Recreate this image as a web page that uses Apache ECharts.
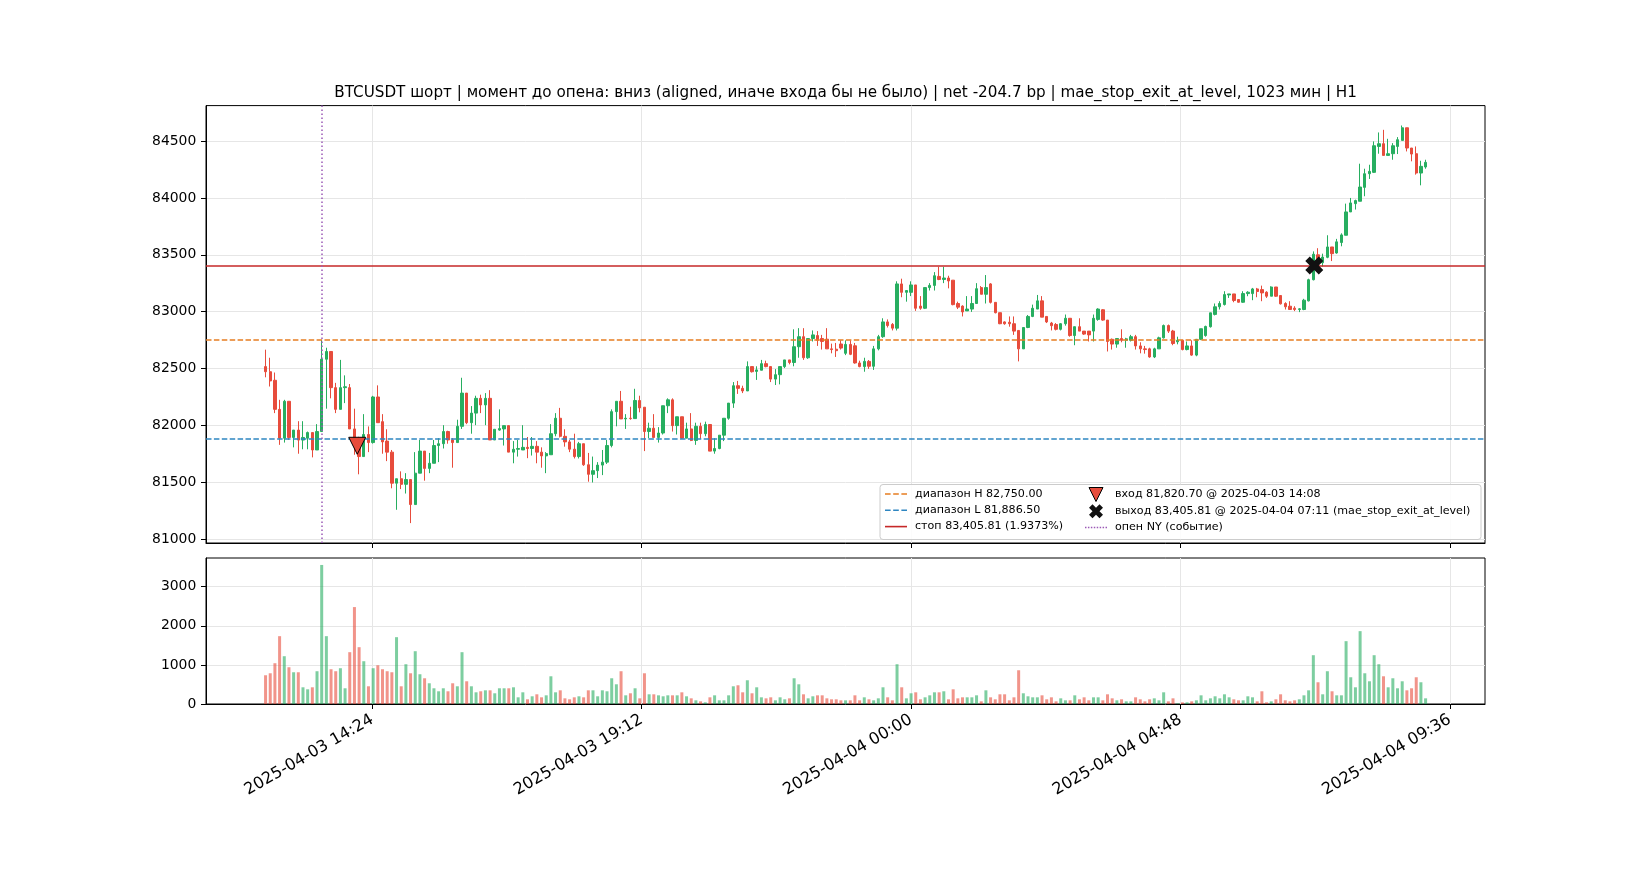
<!DOCTYPE html>
<html>
<head>
<meta charset="utf-8">
<script src="https://cdn.jsdelivr.net/npm/echarts@6.0.0/dist/echarts.min.js"></script>
<style>
html,body{margin:0;padding:0;background:#ffffff;}
#chart{width:1650px;height:880px;}
</style>
</head>
<body>
<div id="chart"></div>
<script>
// ---------- DATA ----------
const candleTimes = [
'2025-04-03 12:30','2025-04-03 12:35','2025-04-03 12:40','2025-04-03 12:45','2025-04-03 12:50','2025-04-03 12:55',
'2025-04-03 13:00','2025-04-03 13:05','2025-04-03 13:10','2025-04-03 13:15','2025-04-03 13:20','2025-04-03 13:25','2025-04-03 13:30','2025-04-03 13:35','2025-04-03 13:40','2025-04-03 13:45','2025-04-03 13:50','2025-04-03 13:55',
'2025-04-03 14:00','2025-04-03 14:05','2025-04-03 14:10','2025-04-03 14:15','2025-04-03 14:20','2025-04-03 14:25','2025-04-03 14:30','2025-04-03 14:35','2025-04-03 14:40','2025-04-03 14:45','2025-04-03 14:50','2025-04-03 14:55',
'2025-04-03 15:00','2025-04-03 15:05','2025-04-03 15:10','2025-04-03 15:15','2025-04-03 15:20','2025-04-03 15:25','2025-04-03 15:30','2025-04-03 15:35','2025-04-03 15:40','2025-04-03 15:45','2025-04-03 15:50','2025-04-03 15:55',
'2025-04-03 16:00','2025-04-03 16:05','2025-04-03 16:10','2025-04-03 16:15','2025-04-03 16:20','2025-04-03 16:25','2025-04-03 16:30','2025-04-03 16:35','2025-04-03 16:40','2025-04-03 16:45','2025-04-03 16:50','2025-04-03 16:55',
'2025-04-03 17:00','2025-04-03 17:05','2025-04-03 17:10','2025-04-03 17:15','2025-04-03 17:20','2025-04-03 17:25','2025-04-03 17:30','2025-04-03 17:35','2025-04-03 17:40','2025-04-03 17:45','2025-04-03 17:50','2025-04-03 17:55',
'2025-04-03 18:00','2025-04-03 18:05','2025-04-03 18:10','2025-04-03 18:15','2025-04-03 18:20','2025-04-03 18:25','2025-04-03 18:30','2025-04-03 18:35','2025-04-03 18:40','2025-04-03 18:45','2025-04-03 18:50','2025-04-03 18:55',
'2025-04-03 19:00','2025-04-03 19:05','2025-04-03 19:10','2025-04-03 19:15','2025-04-03 19:20','2025-04-03 19:25','2025-04-03 19:30','2025-04-03 19:35','2025-04-03 19:40','2025-04-03 19:45','2025-04-03 19:50','2025-04-03 19:55',
'2025-04-03 20:00','2025-04-03 20:05','2025-04-03 20:10','2025-04-03 20:15','2025-04-03 20:20','2025-04-03 20:25','2025-04-03 20:30','2025-04-03 20:35','2025-04-03 20:40','2025-04-03 20:45','2025-04-03 20:50','2025-04-03 20:55',
'2025-04-03 21:00','2025-04-03 21:05','2025-04-03 21:10','2025-04-03 21:15','2025-04-03 21:20','2025-04-03 21:25','2025-04-03 21:30','2025-04-03 21:35','2025-04-03 21:40','2025-04-03 21:45','2025-04-03 21:50','2025-04-03 21:55',
'2025-04-03 22:00','2025-04-03 22:05','2025-04-03 22:10','2025-04-03 22:15','2025-04-03 22:20','2025-04-03 22:25','2025-04-03 22:30','2025-04-03 22:35','2025-04-03 22:40','2025-04-03 22:45','2025-04-03 22:50','2025-04-03 22:55',
'2025-04-03 23:00','2025-04-03 23:05','2025-04-03 23:10','2025-04-03 23:15','2025-04-03 23:20','2025-04-03 23:25','2025-04-03 23:30','2025-04-03 23:35','2025-04-03 23:40','2025-04-03 23:45','2025-04-03 23:50','2025-04-03 23:55',
'2025-04-04 00:00','2025-04-04 00:05','2025-04-04 00:10','2025-04-04 00:15','2025-04-04 00:20','2025-04-04 00:25','2025-04-04 00:30','2025-04-04 00:35','2025-04-04 00:40','2025-04-04 00:45','2025-04-04 00:50','2025-04-04 00:55',
'2025-04-04 01:00','2025-04-04 01:05','2025-04-04 01:10','2025-04-04 01:15','2025-04-04 01:20','2025-04-04 01:25','2025-04-04 01:30','2025-04-04 01:35','2025-04-04 01:40','2025-04-04 01:45','2025-04-04 01:50','2025-04-04 01:55',
'2025-04-04 02:00','2025-04-04 02:05','2025-04-04 02:10','2025-04-04 02:15','2025-04-04 02:20','2025-04-04 02:25','2025-04-04 02:30','2025-04-04 02:35','2025-04-04 02:40','2025-04-04 02:45','2025-04-04 02:50','2025-04-04 02:55',
'2025-04-04 03:00','2025-04-04 03:05','2025-04-04 03:10','2025-04-04 03:15','2025-04-04 03:20','2025-04-04 03:25','2025-04-04 03:30','2025-04-04 03:35','2025-04-04 03:40','2025-04-04 03:45','2025-04-04 03:50','2025-04-04 03:55',
'2025-04-04 04:00','2025-04-04 04:05','2025-04-04 04:10','2025-04-04 04:15','2025-04-04 04:20','2025-04-04 04:25','2025-04-04 04:30','2025-04-04 04:35','2025-04-04 04:40','2025-04-04 04:45','2025-04-04 04:50','2025-04-04 04:55',
'2025-04-04 05:00','2025-04-04 05:05','2025-04-04 05:10','2025-04-04 05:15','2025-04-04 05:20','2025-04-04 05:25','2025-04-04 05:30','2025-04-04 05:35','2025-04-04 05:40','2025-04-04 05:45','2025-04-04 05:50','2025-04-04 05:55',
'2025-04-04 06:00','2025-04-04 06:05','2025-04-04 06:10','2025-04-04 06:15','2025-04-04 06:20','2025-04-04 06:25','2025-04-04 06:30','2025-04-04 06:35','2025-04-04 06:40','2025-04-04 06:45','2025-04-04 06:50','2025-04-04 06:55',
'2025-04-04 07:00','2025-04-04 07:05','2025-04-04 07:10','2025-04-04 07:15','2025-04-04 07:20','2025-04-04 07:25','2025-04-04 07:30','2025-04-04 07:35','2025-04-04 07:40','2025-04-04 07:45','2025-04-04 07:50','2025-04-04 07:55',
'2025-04-04 08:00','2025-04-04 08:05','2025-04-04 08:10','2025-04-04 08:15','2025-04-04 08:20','2025-04-04 08:25','2025-04-04 08:30','2025-04-04 08:35','2025-04-04 08:40','2025-04-04 08:45','2025-04-04 08:50','2025-04-04 08:55',
'2025-04-04 09:00','2025-04-04 09:05','2025-04-04 09:10'
];

const openPrices = [
82517,82472,82397,82141,81888,82212,81894,81959,81871,81888,
81937,81784,81946,82582,82650,82332,82141,82332,82332,81969,
81888,81726,81920,81849,82250,82033,81862,81765,81492,81531,
81482,81524,81304,81580,81774,81622,81667,81823,81839,81946,
81872,81849,81992,82284,82024,82108,82238,82180,82238,81872,
81959,81969,81998,81765,81790,81784,81807,81797,81816,81765,
81732,81742,81927,82063,81904,81855,81791,81726,81839,81654,
81570,81602,81651,81677,81823,82121,82212,82057,82063,82060,
82219,82160,81946,81975,81894,81933,82173,82225,81998,82076,
81888,81969,81868,81992,81927,82008,81774,81797,81914,82063,
82196,82349,82326,82303,82517,82475,82485,82543,82517,82407,
82446,82517,82576,82553,82692,82780,82595,82764,82790,82764,
82758,82673,82670,82716,82634,82712,82700,82549,82517,82563,
82520,82673,82780,82910,82888,82855,83244,83170,83170,83235,
83049,83030,83212,83231,83310,83283,83296,83277,83072,83049,
83007,83023,83072,83212,83153,83244,83082,82991,82910,82907,
82894,82835,82673,82861,82958,83023,83095,82958,82900,82887,
82845,82894,82942,82790,82868,82829,82829,82829,82932,83017,
82926,82757,82715,82764,82748,82748,82780,82699,82673,82673,
82602,82673,82770,82878,82830,82735,82748,82667,82699,82618,
82757,82790,82868,82976,83043,83063,83147,83156,83107,83083,
83159,83159,83200,83194,83171,83136,83217,83142,83072,83048,
83031,83019,83019,83095,83281,83500,83430,83478,83569,83516,
83608,83672,83877,83950,83971,84093,84213,84225,84453,84477,
84374,84389,84453,84506,84617,84439,84389,84219,84272
];

const closePrices = [
82472,82391,82141,81888,82212,81894,81959,81871,81894,81937,
81784,81946,82582,82650,82332,82141,82332,82340,81969,81888,
81726,81920,81849,82250,82024,81855,81765,81492,81531,81482,
81524,81304,81580,81774,81622,81667,81823,81839,81946,81872,
81849,81992,82284,82024,82108,82238,82180,82238,81872,81966,
81972,81998,81765,81790,81797,81807,81797,81816,81765,81732,
81752,81927,82063,81904,81855,81791,81726,81839,81654,81570,
81602,81651,81677,81823,82121,82212,82057,82063,82060,82219,
82154,81946,81975,81894,81933,82173,82225,81998,82076,81888,
81969,81868,81992,81927,82008,81774,81797,81914,82063,82196,
82349,82326,82303,82517,82472,82488,82543,82517,82407,82446,
82517,82576,82553,82692,82780,82595,82764,82796,82748,82738,
82673,82667,82657,82680,82712,82625,82549,82517,82563,82520,
82673,82780,82910,82878,82855,83244,83170,83186,83235,83030,
83030,83212,83231,83316,83283,83296,83270,83062,83040,82998,
83023,83072,83202,83153,83212,83082,82991,82894,82894,82894,
82829,82673,82861,82958,83030,83095,82952,82910,82877,82845,
82894,82942,82790,82868,82829,82803,82796,82942,83023,82926,
82738,82715,82764,82748,82761,82780,82699,82673,82667,82602,
82673,82770,82878,82829,82720,82748,82667,82699,82618,82757,
82850,82870,82990,83043,83072,83150,83156,83098,83083,83159,
83171,83200,83177,83165,83136,83217,83136,83069,83043,83019,
83019,83025,83101,83281,83505,83430,83480,83569,83510,83614,
83675,83877,83956,83977,84096,84213,84234,84459,84477,84374,
84389,84459,84512,84617,84439,84386,84219,84278,84313
];

const highPrices = [
82666,82595,82465,82225,82225,82212,81959,82037,82037,81946,
81937,82011,82750,82683,82650,82374,82576,82440,82364,82147,
81900,82099,81991,82260,82352,82099,81966,81784,81531,81596,
81580,81524,81765,81872,81774,81758,81872,81888,82002,81953,
81888,82050,82419,82284,82170,82261,82270,82284,82310,81966,
82141,81998,81998,81862,81872,82002,81898,81898,81862,81807,
81765,82011,82108,82154,81966,81872,81927,81855,81839,81758,
81726,81677,81784,81872,82141,82212,82303,82099,82164,82322,
82261,82160,82024,82099,81985,82173,82238,82238,82076,82076,
82024,82108,82024,82024,82033,82008,81888,81914,82063,82196,
82381,82391,82349,82563,82517,82520,82576,82569,82517,82495,
82517,82576,82576,82845,82855,82855,82764,82835,82829,82796,
82855,82719,82725,82748,82748,82748,82725,82569,82595,82575,
82699,82796,82942,82932,82900,83267,83290,83186,83267,83235,
83137,83212,83251,83348,83394,83394,83316,83277,83088,83056,
83137,83137,83251,83225,83322,83251,83082,82991,82915,82958,
82958,82835,82861,82971,83062,83147,83137,82958,82910,82900,
82900,82975,82942,82868,82942,82829,82829,82975,83030,83023,
82926,82764,82764,82845,82770,82796,82796,82731,82699,82683,
82683,82780,82887,82887,82840,82780,82748,82738,82748,82757,
82850,82877,82990,83072,83092,83180,83156,83156,83110,83180,
83180,83209,83209,83229,83180,83223,83217,83142,83083,83092,
83048,83031,83113,83290,83530,83558,83510,83672,83569,83640,
83689,83950,84000,83985,84301,84257,84292,84497,84576,84599,
84520,84482,84535,84637,84617,84439,84453,84327,84336
];

const lowPrices = [
82423,82342,82108,81829,81849,81872,81807,81751,81790,81790,
81719,81784,81946,82147,82238,82108,82141,82196,81969,81742,
81570,81726,81765,81840,82024,81751,81686,81447,81258,81440,
81401,81141,81304,81580,81514,81580,81667,81677,81797,81839,
81628,81849,81969,82011,81927,82002,82108,82002,81872,81872,
81953,81823,81765,81667,81726,81784,81712,81735,81667,81628,
81580,81742,81904,81894,81813,81765,81709,81709,81644,81505,
81498,81537,81563,81661,81807,81992,82057,81969,82050,82060,
82115,81774,81888,81894,81849,81920,82108,81946,81920,81882,
81888,81862,81829,81882,81904,81774,81751,81790,81862,82050,
82154,82277,82284,82303,82465,82400,82485,82511,82381,82355,
82361,82504,82537,82520,82595,82576,82585,82738,82699,82667,
82673,82634,82602,82667,82618,82618,82543,82511,82472,82497,
82488,82660,82770,82861,82835,82835,83127,83088,83137,83007,
83017,83023,83186,83186,83277,83251,83205,83056,83023,82958,
83007,82998,83072,83153,83072,83072,82985,82890,82885,82868,
82796,82563,82673,82855,82952,83023,82952,82900,82835,82835,
82835,82877,82780,82705,82829,82796,82738,82738,82920,82920,
82650,82667,82683,82731,82683,82738,82667,82634,82631,82595,
82592,82673,82764,82813,82705,82713,82660,82660,82612,82608,
82750,82780,82860,82967,83019,83054,83121,83083,83080,83078,
83136,83101,83127,83092,83121,83136,83130,83063,83019,83019,
83005,82996,83013,83090,83275,83398,83397,83470,83445,83510,
83575,83672,83877,83898,83971,84015,84167,84219,84389,84374,
84374,84336,84386,84506,84409,84322,84205,84111,84257
];

const volumes = [
735,786,1043,1735,1222,940,812,812,427,376,
427,838,3556,1735,889,838,915,402,1325,2479,
1453,1094,453,915,991,889,838,812,1709,453,
1017,786,1350,761,658,530,402,325,402,325,
530,453,1325,581,453,299,325,350,350,274,
402,402,402,427,171,299,120,197,248,171,
222,709,299,350,145,120,171,197,171,350,
350,197,350,325,658,504,838,222,274,402,
145,786,248,248,222,197,222,222,222,299,
197,145,94,68,43,171,222,94,94,222,
453,479,299,607,274,427,171,145,171,94,
171,120,145,658,504,248,145,197,222,222,
145,120,120,94,94,94,222,94,171,120,
94,145,427,171,94,1017,427,145,274,299,
120,171,222,299,299,325,120,376,145,171,
171,171,222,68,350,171,120,248,248,94,
171,863,274,197,171,171,222,120,171,68,
145,94,94,222,120,171,94,171,171,94,
248,145,94,120,68,68,171,120,68,120,
145,94,299,68,145,17,43,43,68,94,
222,94,145,197,145,248,171,120,94,94,
197,171,68,325,43,68,120,248,94,68,
94,120,222,350,1248,556,248,838,325,222,
222,1607,684,427,1863,786,581,1248,1017,709,
427,658,402,581,350,402,684,556,145
];

const xTickLabels = ['2025-04-03 14:24','2025-04-03 19:12','2025-04-04 00:00','2025-04-04 04:48','2025-04-04 09:36'];
const priceTicks = [81000,81500,82000,82500,83000,83500,84000,84500];
const volumeTicks = [0,1000,2000,3000];

const rangeHigh = 82750.00;
const rangeLow = 81886.50;
const stopLevel = 83405.81;
const entryTime = '2025-04-03 14:08';
const entryPrice = 81820.70;
const exitTime = '2025-04-04 07:11';
const exitPrice = 83405.81;
const nyOpenTime = '2025-04-03 13:30';

const titleText = 'BTCUSDT шорт | момент до опена: вниз (aligned, иначе входа бы не было) | net -204.7 bp | mae_stop_exit_at_level, 1023 мин | H1';
const nameH = 'диапазон H 82,750.00';
const nameL = 'диапазон L 81,886.50';
const nameStop = 'стоп 83,405.81 (1.9373%)';
const nameEntry = 'вход 81,820.70 @ 2025-04-03 14:08';
const nameExit = 'выход 83,405.81 @ 2025-04-04 07:11 (mae_stop_exit_at_level)';
const nameNY = 'опен NY (событие)';

// ---------- HELPERS ----------
function toMs(s) {
  const parts = s.split(' ');
  const d = parts[0].split('-').map(Number);
  const t = parts[1].split(':').map(Number);
  return Date.UTC(d[0], d[1] - 1, d[2], t[0], t[1], t[2] || 0);
}
function pad2(n) { return String(n).padStart(2, '0'); }
function fmtTime(v) {
  const d = new Date(v);
  return d.getUTCFullYear() + '-' + pad2(d.getUTCMonth() + 1) + '-' + pad2(d.getUTCDate()) + ' ' +
    pad2(d.getUTCHours()) + ':' + pad2(d.getUTCMinutes());
}

const UP = '#27ae60', DOWN = '#e74c3c';
const UP_VOL = 'rgba(39,174,96,0.6)', DOWN_VOL = 'rgba(231,76,60,0.6)';
const FONT = 'DejaVu Sans';
const C_H = '#e67e22', C_L = '#2e86c1', C_STOP = '#c62828', C_NY = '#9b59b6';

const candleData = candleTimes.map((t, i) => [toMs(t), openPrices[i], closePrices[i], lowPrices[i], highPrices[i]]);
const volumeData = candleTimes.map((t, i) => ({
  value: [toMs(t), volumes[i]],
  itemStyle: { color: closePrices[i] >= openPrices[i] ? UP_VOL : DOWN_VOL }
}));
const xTickValues = xTickLabels.map(toMs);

const xMin = toMs('2025-04-03 11:26:20');
const xMax = toMs('2025-04-04 10:13:30');

const dashIcon = 'path://M0,0h5.5v1.5h-5.5z M8,0h5.5v1.5h-5.5z M16,0h5.5v1.5h-5.5z';
const solidIcon = 'path://M0,0h22v1.6h-22z';
const dotIcon = 'path://M0,0h1.5v1.5h-1.5z M3,0h1.5v1.5h-1.5z M6,0h1.5v1.5h-1.5z M9,0h1.5v1.5h-1.5z M12,0h1.5v1.5h-1.5z M15,0h1.5v1.5h-1.5z M18,0h1.5v1.5h-1.5z M21,0h1.5v1.5h-1.5z';
const triIcon = 'path://M0,0L12,0L6,12Z';
const xIcon = 'path://M0,3L3,0L6,3L9,0L12,3L9,6L12,9L9,12L6,9L3,12L0,9L3,6Z';

const gridLine = { show: true, lineStyle: { color: '#e6e6e6', width: 1 } };
const axisLineBlack = { show: true, lineStyle: { color: '#000', width: 1 } };
const tickBlack = { show: true, length: 5, lineStyle: { color: '#000', width: 1 } };
const legendText = { fontFamily: FONT, fontSize: 11.1, color: '#000', lineHeight: 14, padding: [0, 0, 0, 3] };

const chart = echarts.init(document.getElementById('chart'), null, { renderer: 'canvas' });

const option = {
  animation: false,
  backgroundColor: '#ffffff',
  title: {
    text: titleText,
    left: 845.6,
    top: 86,
    textAlign: 'center',
    padding: 0,
    textStyle: { fontFamily: FONT, fontSize: 15.2, fontWeight: 'normal', color: '#000' }
  },
  grid: [
    { left: 206, top: 105.6, width: 1279, height: 437.4, show: true, borderColor: '#000', borderWidth: 1, containLabel: false, outerBoundsMode: 'none' },
    { left: 206, top: 558, width: 1279, height: 146, show: true, borderColor: '#000', borderWidth: 1, containLabel: false, outerBoundsMode: 'none' }
  ],
  xAxis: [
    {
      type: 'value', gridIndex: 0, min: xMin, max: xMax,
      axisLine: axisLineBlack,
      axisTick: Object.assign({ customValues: xTickValues }, tickBlack),
      axisLabel: { show: false, customValues: xTickValues },
      splitLine: gridLine
    },
    {
      type: 'value', gridIndex: 1, min: xMin, max: xMax,
      axisLine: axisLineBlack,
      axisTick: Object.assign({ customValues: xTickValues }, tickBlack),
      axisLabel: {
        show: true, customValues: xTickValues, rotate: 30, margin: 14.5,
        fontFamily: FONT, fontSize: 16.2, color: '#000',
        formatter: v => fmtTime(v)
      },
      splitLine: gridLine
    }
  ],
  yAxis: [
    {
      type: 'value', gridIndex: 0, min: 80966, max: 84812,
      axisLine: axisLineBlack,
      axisTick: Object.assign({ customValues: priceTicks }, tickBlack),
      axisLabel: { customValues: priceTicks, margin: 9.7, fontFamily: FONT, fontSize: 13.9, color: '#000', formatter: v => String(Math.round(v)) },
      splitLine: gridLine
    },
    {
      type: 'value', gridIndex: 1, min: 0, max: 3734,
      axisLine: axisLineBlack,
      axisTick: Object.assign({ customValues: volumeTicks }, tickBlack),
      axisLabel: { customValues: volumeTicks, margin: 9.7, fontFamily: FONT, fontSize: 13.9, color: '#000', formatter: v => String(Math.round(v)) },
      splitLine: gridLine
    }
  ],
  legend: [
    {
      left: 885, top: 487, orient: 'vertical', padding: 0,
      itemWidth: 22, itemHeight: 14, itemGap: 2.3, selectedMode: false, z: 20,
      textStyle: legendText,
      data: [
        { name: nameH, icon: dashIcon, itemStyle: { color: C_H } },
        { name: nameL, icon: dashIcon, itemStyle: { color: C_L } },
        { name: nameStop, icon: solidIcon, itemStyle: { color: C_STOP } }
      ]
    },
    {
      left: 1085, top: 487, orient: 'vertical', padding: 0,
      itemWidth: 22, itemHeight: 14, itemGap: 2.3, selectedMode: false, z: 20,
      textStyle: legendText,
      data: [
        { name: nameEntry, icon: triIcon, itemStyle: { color: '#e74c3c', borderColor: '#000', borderWidth: 1 } },
        { name: nameExit, icon: xIcon, itemStyle: { color: '#111111' } },
        { name: nameNY, icon: dotIcon, itemStyle: { color: C_NY } }
      ]
    }
  ],
  graphic: [
    {
      type: 'rect', left: 879.5, top: 484, z: 15,
      shape: { width: 601, height: 55, r: 3 },
      style: { fill: 'rgba(255,255,255,0.85)', stroke: '#cccccc', lineWidth: 1 }
    }
  ],
  series: [
    {
      name: 'BTCUSDT', type: 'candlestick', xAxisIndex: 0, yAxisIndex: 0,
      encode: { x: 0, y: [1, 2, 3, 4] },
      barWidth: 2.9, z: 2,
      itemStyle: { color: UP, color0: DOWN, borderColor: UP, borderColor0: DOWN, borderWidth: 1 },
      data: candleData
    },
    {
      name: nameH, type: 'line', xAxisIndex: 0, yAxisIndex: 0, data: [], color: C_H, z: 3,
      markLine: { silent: true, symbol: ['none', 'none'], label: { show: false },
        lineStyle: { color: C_H, width: 1.5, type: [5.5, 2.4] }, data: [{ yAxis: rangeHigh }] }
    },
    {
      name: nameL, type: 'line', xAxisIndex: 0, yAxisIndex: 0, data: [], color: C_L, z: 3,
      markLine: { silent: true, symbol: ['none', 'none'], label: { show: false },
        lineStyle: { color: C_L, width: 1.5, type: [5.5, 2.4] }, data: [{ yAxis: rangeLow }] }
    },
    {
      name: nameStop, type: 'line', xAxisIndex: 0, yAxisIndex: 0, data: [], color: C_STOP, z: 3,
      markLine: { silent: true, symbol: ['none', 'none'], label: { show: false },
        lineStyle: { color: C_STOP, width: 1.6, type: 'solid' }, data: [{ yAxis: stopLevel }] }
    },
    {
      name: nameNY, type: 'line', xAxisIndex: 0, yAxisIndex: 0, data: [], color: C_NY, z: 3,
      markLine: { silent: true, symbol: ['none', 'none'], label: { show: false },
        lineStyle: { color: C_NY, width: 1.5, type: [1.5, 2.5] }, data: [{ xAxis: toMs(nyOpenTime) }] }
    },
    {
      name: nameEntry, type: 'scatter', xAxisIndex: 0, yAxisIndex: 0, z: 5,
      symbol: triIcon, symbolSize: 17,
      itemStyle: { color: '#e74c3c', borderColor: '#000', borderWidth: 1, opacity: 1 },
      data: [[toMs(entryTime), entryPrice]]
    },
    {
      name: nameExit, type: 'scatter', xAxisIndex: 0, yAxisIndex: 0, z: 5,
      symbol: xIcon, symbolSize: 18,
      itemStyle: { color: '#111111', opacity: 1 },
      data: [[toMs(exitTime), exitPrice]]
    },
    {
      name: 'volume', type: 'bar', xAxisIndex: 1, yAxisIndex: 1,
      barWidth: 3, data: volumeData
    }
  ]
};

chart.setOption(option);
</script>
</body>
</html>
